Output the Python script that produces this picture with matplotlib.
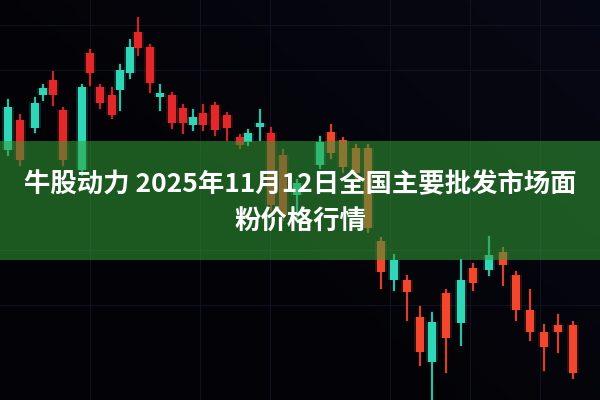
import matplotlib.pyplot as plt
import numpy as np

# candle positions (horizontal pixel slot) and prices (price = 400 - y)
xs = [8, 20, 35, 43, 53, 63, 82, 90, 100, 112, 120, 130, 138, 150, 160, 172, 183, 193,
      203, 215, 227, 240, 248, 260, 271, 283, 297, 320, 331, 343, 356, 368, 381, 394,
      407, 420, 432, 446, 461, 473, 489, 503, 516, 530, 544, 558, 573]
opens = [250, 280, 272, 305, 320, 290, 230, 347, 313, 305, 310, 327, 368, 353, 303, 305,
         292, 275, 287, 295, 285, 263, 258, 273, 267, 245, 205, 235, 268, 260, 252, 252,
         159, 120, 120, 83, 38, 107, 77, 132, 130, 148, 125, 90, 68, 75, 75]
closes = [293, 240, 297, 312, 305, 240, 313, 327, 297, 285, 330, 353, 352, 317, 307, 277,
          277, 283, 275, 270, 272, 255, 267, 277, 195, 185, 217, 258, 247, 233, 227, 172,
          128, 140, 108, 48, 78, 62, 120, 117, 145, 135, 90, 68, 53, 68, 27]
highs = [300, 285, 302, 315, 328, 292, 315, 350, 315, 312, 335, 360, 382, 355, 315, 307,
         295, 290, 295, 297, 287, 265, 270, 290, 272, 250, 220, 263, 275, 262, 255, 255,
         162, 145, 124, 93, 87, 110, 140, 136, 163, 152, 128, 110, 75, 85, 78]
lows = [245, 235, 268, 300, 295, 235, 225, 315, 292, 282, 290, 322, 345, 308, 290, 272,
        267, 270, 270, 265, 260, 252, 255, 260, 190, 180, 182, 232, 242, 228, 222, 168,
        112, 110, 80, 35, 0, 28, 55, 110, 125, 115, 80, 60, 30, 48, 22]

title_lines = ["牛股动力 2025年11月12日全国主要批发市场面", "粉价格行情"]

plt.rcParams['font.family'] = ['Noto Sans CJK SC', 'DejaVu Sans']

fig = plt.figure(figsize=(6, 4), dpi=100)
ax = fig.add_axes([0, 0, 1, 1])
ax.set_xlim(0, 600)
ax.set_ylim(0, 400)
ax.axis('off')
fig.patch.set_facecolor('#040408')

# dark backdrop with a faint blue tint towards the top right
gx = np.linspace(0, 1, 120)
gy = np.linspace(0, 1, 80)
GX, GY = np.meshgrid(gx, gy)
shade = np.clip(GX * 0.8 + GY * 0.6 - 0.6, 0, 1)
bg = np.zeros((80, 120, 3))
bg[..., 0] = 0.015 + 0.015 * shade
bg[..., 1] = 0.015 + 0.02 * shade
bg[..., 2] = 0.03 + 0.065 * shade
ax.imshow(bg, extent=[0, 600, 0, 400], origin='lower', aspect='auto', zorder=0)

# faint grid
for gxl in [90, 200, 270, 390, 470, 540]:
    ax.axvline(gxl, color='#0f1322', lw=0.7, zorder=1)
for gyl in [95, 150, 330, 375]:
    ax.axhline(gyl, color='#0f1322', lw=0.7, zorder=1)

for x, o, c, h, l in zip(xs, opens, closes, highs, lows):
    up = c > o
    if up:
        col = '#2fd6b8'
    else:
        col = '#f2462d' if x > 300 else '#e3282a'
    ax.plot([x, x], [l, h], color=col, lw=1.6, alpha=0.9, zorder=2)
    lo, hi = min(o, c), max(o, c)
    ax.bar(x, hi - lo, width=11.5, bottom=lo, color=col, alpha=0.18, zorder=2)
    ax.bar(x, hi - lo, width=8.5, bottom=lo, color=col, zorder=3)

# green banner with title
ax.axhspan(140, 259, color='#32a036', alpha=0.55, lw=0, zorder=4)
ax.text(300, 215, title_lines[0], color='white', fontsize=19, fontweight='bold',
        ha='center', va='center', zorder=5)
ax.text(300, 178, title_lines[1], color='white', fontsize=19, fontweight='bold',
        ha='center', va='center', zorder=5)

fig.savefig('out.png', dpi=100, facecolor=fig.get_facecolor())
